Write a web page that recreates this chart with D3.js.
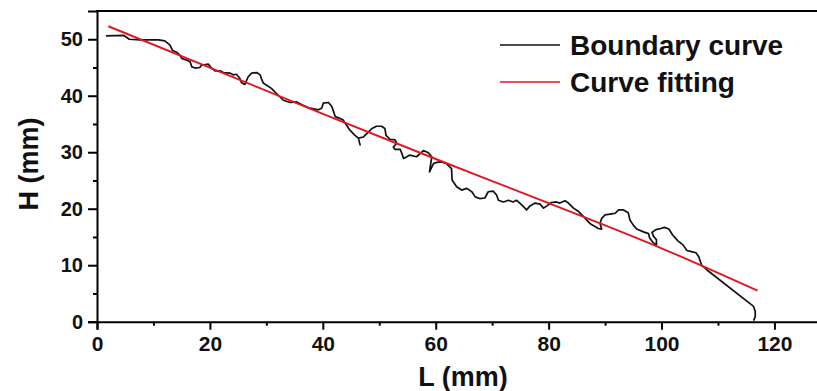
<!DOCTYPE html>
<html>
<head>
<meta charset="utf-8">
<script src="https://cdn.jsdelivr.net/npm/d3@7"></script>
<style>
  html, body { margin: 0; padding: 0; background: #fff; }
  svg { display: block; font-family: "Liberation Sans", Arial, sans-serif; font-weight: bold; }
</style>
</head>
<body>
<svg id="chart" width="817" height="391"></svg>
<script>
/* boundary curve: L (mm) */
const boundaryL = [
  1.6, 4.7, 5.3, 5.7, 7.6, 10.9, 12.0, 12.9, 13.4, 14.1, 14.7, 15.0, 15.9, 16.5, 16.8, 17.4,
  18.2, 18.5, 19.7, 20.3, 20.9, 21.8, 22.4, 23.6, 24.1, 24.7, 25.3, 25.6, 26.2, 26.8, 27.4,
  28.3, 28.9, 29.2, 29.5, 30.9, 31.5, 31.8, 33.0, 34.2, 35.4, 36.3, 37.7, 39.2, 39.8, 40.1,
  41.0, 41.6, 42.2, 43.0, 43.6, 44.0, 44.8, 45.7, 46.3, 46.6, 46.3, 47.2, 48.1, 48.7, 49.5,
  50.4, 51.0, 51.2, 51.9, 52.8, 53.1, 52.5, 52.8, 53.7, 54.0, 54.3, 54.9, 55.4, 56.6, 57.2,
  57.8, 58.7, 59.3, 58.9, 59.6, 60.2, 61.0, 61.9, 62.8, 62.9, 63.7, 64.6, 65.5, 66.4, 67.0,
  67.8, 68.7, 69.3, 70.2, 70.8, 71.1, 72.0, 72.9, 73.7, 74.3, 74.9, 75.5, 76.1, 76.7, 77.6,
  78.5, 79.1, 79.7, 80.5, 81.4, 82.0, 82.9, 83.5, 84.4, 85.3, 86.2, 87.3, 88.8, 89.4, 89.1,
  89.4, 90.0, 91.2, 91.8, 92.4, 93.2, 94.1, 94.4, 95.0, 95.6, 96.8, 97.7, 97.9, 98.5, 99.1,
  99.1, 98.6, 98.3, 99.0, 99.9, 100.5, 101.3, 102.0, 102.9, 103.8, 104.5, 105.3, 106.1,
  106.6, 107.1, 108.0, 116.3, 116.6, 116.6, 116.3
];
/* boundary curve: H (mm) */
const boundaryH = [
  50.6, 50.7, 50.3, 50.0, 49.9, 49.9, 49.7, 49.0, 48.0, 47.7, 47.2, 46.6, 46.3, 46.0, 45.1, 44.9,
  45.0, 45.4, 45.6, 44.9, 44.4, 44.4, 44.1, 44.0, 43.7, 43.8, 43.1, 42.3, 42.0, 43.4, 44.0,
  44.1, 43.7, 42.8, 42.2, 41.3, 40.7, 40.4, 39.2, 38.8, 38.9, 38.4, 37.8, 37.5, 37.8, 38.7,
  38.8, 38.1, 36.3, 36.0, 35.7, 35.1, 33.9, 33.0, 32.5, 31.3, 32.5, 32.7, 33.6, 34.2, 34.6,
  34.6, 34.2, 33.0, 32.3, 32.2, 31.6, 30.9, 30.5, 30.5, 29.8, 28.9, 29.2, 29.5, 29.2, 29.7,
  30.3, 29.9, 29.2, 26.5, 28.0, 28.2, 28.3, 28.0, 27.1, 25.1, 23.9, 23.3, 23.6, 23.0, 22.1,
  21.8, 21.9, 23.0, 23.1, 22.4, 21.5, 21.2, 21.5, 21.2, 21.5, 21.0, 20.4, 19.8, 20.5, 21.0,
  20.8, 20.1, 20.5, 21.1, 21.2, 21.0, 21.4, 21.0, 20.1, 19.5, 18.6, 17.4, 16.5, 16.4, 17.4,
  18.3, 18.9, 19.1, 19.2, 19.8, 19.8, 19.3, 18.0, 17.1, 16.4, 15.9, 15.6, 14.8, 14.0, 13.6,
  14.5, 15.1, 15.8, 16.3, 16.5, 16.7, 16.4, 15.3, 14.3, 13.6, 12.6, 12.4, 12.2,
  11.5, 10.0, 9.2, 2.7, 1.8, 0.9, 0.2
];

/* fitted curve */
const fitL = [2, 40, 60, 80, 100, 117];
const fitH = [52.3, 36.8, 28.8, 21.0, 13.0, 5.5];

const xTicks = [0, 20, 40, 60, 80, 100, 120];
const xMinor = [10, 30, 50, 70, 90, 110];
const yTicks = [0, 10, 20, 30, 40, 50];
const yMinor = [5, 15, 25, 35, 45];

const legendNames = ["Boundary curve", "Curve fitting"];
const legendColors = ["#111", "#e3161d"];

const svg = d3.select("#chart");
const x = d3.scaleLinear().domain([0, 128]).range([97, 819.6]);
const y = d3.scaleLinear().domain([0, 55]).range([321.7, 11]);

/* data lines */
const line = d3.line().x(d => x(d[0])).y(d => y(d[1]));
svg.append("path")
  .datum(boundaryL.map((l, i) => [l, boundaryH[i]]))
  .attr("fill", "none").attr("stroke", legendColors[0])
  .attr("stroke-width", 1.7).attr("stroke-linejoin", "round")
  .attr("d", line);
svg.append("path")
  .datum(fitL.map((l, i) => [l, fitH[i]]))
  .attr("fill", "none").attr("stroke", legendColors[1])
  .attr("stroke-width", 1.9)
  .attr("d", d3.line().curve(d3.curveMonotoneX).x(d => x(d[0])).y(d => y(d[1])));

/* axes */
const xAxis = svg.append("g").attr("transform", `translate(0,${y(0)})`)
  .call(d3.axisBottom(x).tickValues(xTicks).tickSize(8).tickPadding(6).tickFormat(d3.format("d")));
svg.append("g").attr("transform", `translate(0,${y(0)})`)
  .call(d3.axisBottom(x).tickValues(xMinor).tickSize(4).tickFormat(""))
  .select(".domain").remove();
const yAxis = svg.append("g").attr("transform", `translate(${x(0)},0)`)
  .call(d3.axisLeft(y).tickValues(yTicks).tickSize(9).tickPadding(5).tickFormat(d3.format("d")));
svg.append("g").attr("transform", `translate(${x(0)},0)`)
  .call(d3.axisLeft(y).tickValues(yMinor).tickSize(4).tickFormat(""))
  .select(".domain").remove();

svg.selectAll(".domain").attr("stroke", "#000").attr("stroke-width", 2);
svg.selectAll(".tick line").attr("stroke", "#000").attr("stroke-width", 2);
xAxis.selectAll("text").attr("font-size", 21).attr("font-weight", "bold")
  .attr("font-family", "Liberation Sans, Arial, sans-serif").attr("fill", "#111");
yAxis.selectAll("text").attr("font-size", 20).attr("font-weight", "bold")
  .attr("font-family", "Liberation Sans, Arial, sans-serif").attr("fill", "#111");

/* top frame line */
svg.append("line")
  .attr("x1", x(0) - 1).attr("x2", 817)
  .attr("y1", y(55)).attr("y2", y(55))
  .attr("stroke", "#000").attr("stroke-width", 2);

/* axis titles */
svg.append("text")
  .attr("x", 463).attr("y", 386)
  .attr("text-anchor", "middle").attr("font-size", 27).attr("fill", "#111")
  .text("L (mm)");
svg.append("text")
  .attr("transform", "translate(38,164) rotate(-90)")
  .attr("text-anchor", "middle").attr("font-size", 27).attr("fill", "#111")
  .text("H (mm)");

/* legend */
const legend = svg.append("g");
legendNames.forEach((name, i) => {
  const ly = 45 + i * 37;
  legend.append("line")
    .attr("x1", 500).attr("x2", 560).attr("y1", ly).attr("y2", ly)
    .attr("stroke", legendColors[i]).attr("stroke-width", 1.5);
  legend.append("text")
    .attr("x", 570).attr("y", ly + 10)
    .attr("font-size", 28).attr("fill", "#111")
    .text(name);
});
</script>
</body>
</html>
